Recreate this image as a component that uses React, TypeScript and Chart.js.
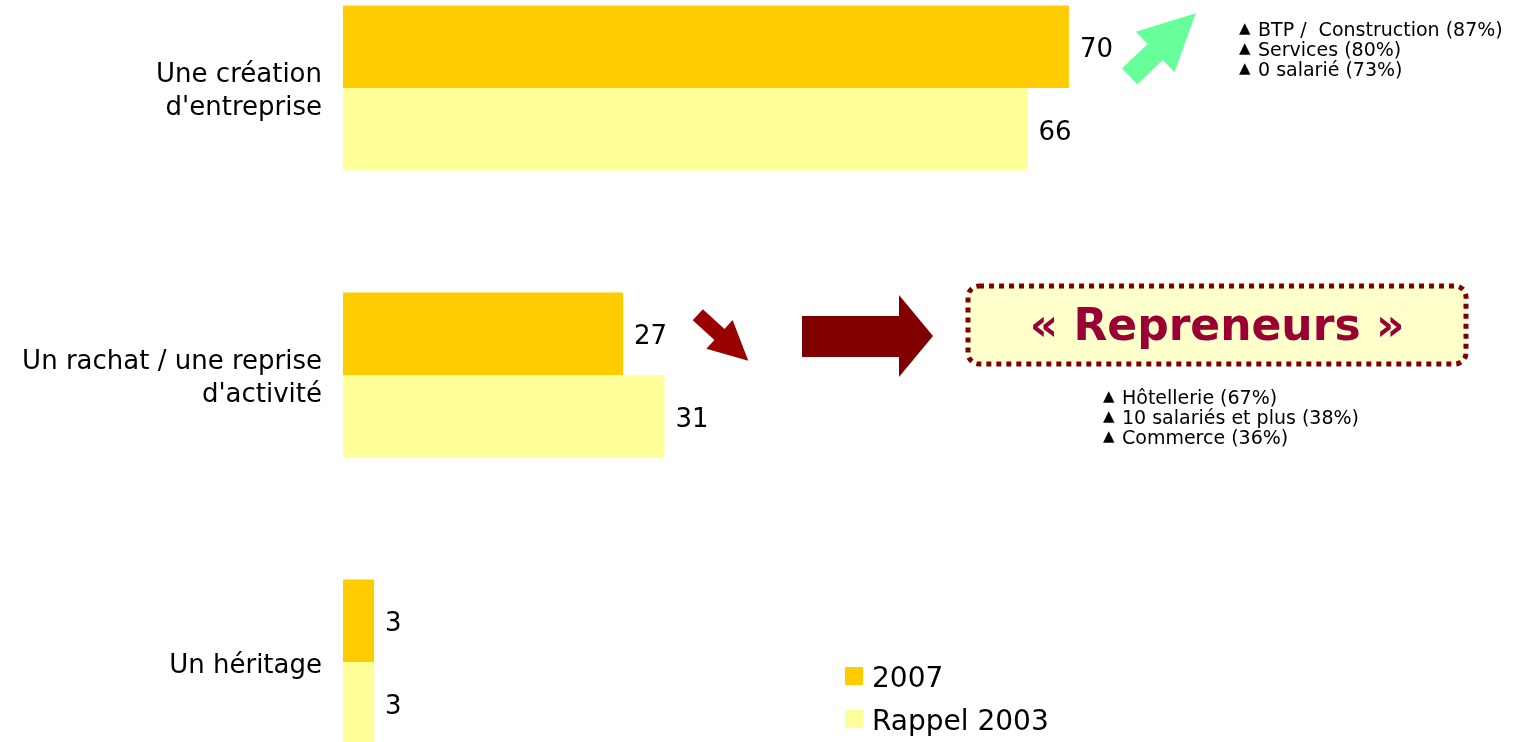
import React, { useEffect, useRef } from "react";
import { Chart, registerables } from "chart.js";

Chart.register(...registerables);

const categories = [
  ["Une création", "d'entreprise"],
  ["Un rachat / une reprise", "d'activité"],
  ["Un héritage"],
];
const series2007 = [70, 27, 3];
const series2003 = [66, 31, 3];
const seriesLabels = ["2007", "Rappel 2003"];
const seriesColors = ["#FFCC00", "#FFFF99"];
const creationNotes = ["BTP /  Construction (87%)", "Services (80%)", "0 salarié (73%)"];
const repriseNotes = ["Hôtellerie (67%)", "10 salariés et plus (38%)", "Commerce (36%)"];
const calloutText = "« Repreneurs »";

const FONT = "'DejaVu Sans', Verdana, sans-serif";

function drawArrow(
  ctx: CanvasRenderingContext2D,
  tail: number[],
  tip: number[],
  shaftHalf: number,
  headLen: number,
  headHalf: number,
  color: string
) {
  const dx = tip[0] - tail[0];
  const dy = tip[1] - tail[1];
  const L = Math.hypot(dx, dy);
  const ux = dx / L, uy = dy / L;
  const nx = -uy, ny = ux;
  const bx = tip[0] - ux * headLen, by = tip[1] - uy * headLen;
  ctx.beginPath();
  ctx.moveTo(tail[0] + nx * shaftHalf, tail[1] + ny * shaftHalf);
  ctx.lineTo(bx + nx * shaftHalf, by + ny * shaftHalf);
  ctx.lineTo(bx + nx * headHalf, by + ny * headHalf);
  ctx.lineTo(tip[0], tip[1]);
  ctx.lineTo(bx - nx * headHalf, by - ny * headHalf);
  ctx.lineTo(bx - nx * shaftHalf, by - ny * shaftHalf);
  ctx.lineTo(tail[0] - nx * shaftHalf, tail[1] - ny * shaftHalf);
  ctx.closePath();
  ctx.fillStyle = color;
  ctx.fill();
}

function drawNotes(ctx: CanvasRenderingContext2D, notes: string[], x: number, y0: number) {
  notes.forEach((t, i) => {
    const y = y0 + i * 20;
    ctx.fillStyle = "#000";
    ctx.textBaseline = "middle";
    ctx.textAlign = "left";
    ctx.font = `15px ${FONT}`;
    ctx.fillText("▲", x - 1, y);
    ctx.font = `19px ${FONT}`;
    ctx.fillText(t, x + 18, y + 2);
  });
}

const overlayPlugin = {
  id: "overlay",
  afterDatasetsDraw(chart: any) {
    const ctx: CanvasRenderingContext2D = chart.ctx;
    ctx.save();
    // value labels
    chart.data.datasets.forEach((ds: any, di: number) => {
      const meta = chart.getDatasetMeta(di);
      meta.data.forEach((bar: any, i: number) => {
        ctx.font = `26px ${FONT}`;
        ctx.fillStyle = "#000";
        ctx.textAlign = "left";
        ctx.textBaseline = "middle";
        ctx.fillText(String(ds.data[i]), bar.x + 11, bar.y + 4);
      });
    });

    // green arrow
    drawArrow(ctx, [1129.7, 76.3], [1195.7, 13.3], 11, 56, 28, "#66FF99");
    drawNotes(ctx, creationNotes, 1240, 29);

    // small red arrow
    drawArrow(ctx, [697.8, 314.7], [748.3, 360.7], 7.5, 39, 19.5, "#990000");

    // block arrow
    ctx.beginPath();
    ctx.moveTo(802, 316);
    ctx.lineTo(899, 316);
    ctx.lineTo(899, 295);
    ctx.lineTo(933, 336);
    ctx.lineTo(899, 377);
    ctx.lineTo(899, 357);
    ctx.lineTo(802, 357);
    ctx.closePath();
    ctx.fillStyle = "#800000";
    ctx.fill();

    // callout box
    ctx.beginPath();
    (ctx as any).roundRect(968, 286, 498, 78, 11);
    ctx.fillStyle = "#FFFFCC";
    ctx.fill();
    ctx.setLineDash([5, 5]);
    ctx.lineWidth = 5;
    ctx.strokeStyle = "#800000";
    ctx.stroke();
    ctx.setLineDash([]);
    ctx.font = `bold 44px ${FONT}`;
    ctx.fillStyle = "#990033";
    ctx.textAlign = "center";
    ctx.textBaseline = "middle";
    ctx.fillText(calloutText, 1217, 329);

    drawNotes(ctx, repriseNotes, 1104, 397);

    // legend
    chart.data.datasets.forEach((ds: any, di: number) => {
      const y = 676 + di * 43;
      ctx.fillStyle = ds.backgroundColor;
      ctx.fillRect(845, y - 9, 18, 18);
      ctx.fillStyle = "#000";
      ctx.font = `28px ${FONT}`;
      ctx.textAlign = "left";
      ctx.textBaseline = "middle";
      ctx.fillText(ds.label, 872, y + 4);
    });
    ctx.restore();
  },
};

export default function App() {
  const ref = useRef<HTMLCanvasElement>(null);
  useEffect(() => {
    if (!ref.current) return;
    const chart = new Chart(ref.current, {
      type: "bar",
      data: {
        labels: categories as any,
        datasets: [
          {
            label: seriesLabels[0],
            data: series2007,
            backgroundColor: seriesColors[0],
            borderWidth: 0,
            clip: false as any,
          },
          {
            label: seriesLabels[1],
            data: series2003,
            backgroundColor: seriesColors[1],
            borderWidth: 0,
            clip: false as any,
          },
        ],
      },
      options: {
        indexAxis: "y",
        responsive: false,
        animation: false,
        events: [],
        layout: { padding: { top: 88, bottom: 80, left: 0, right: 134 } },
        datasets: { bar: { categoryPercentage: 0.575, barPercentage: 1 } },
        plugins: { legend: { display: false }, tooltip: { enabled: false } },
        scales: {
          x: { display: false, min: 0, max: 100 },
          y: {
            offset: false,
            border: { display: false },
            grid: { display: false, drawTicks: false },
            ticks: {
              padding: 21,
              labelOffset: 4,
              color: "#000",
              font: { family: FONT, size: 26, lineHeight: 1.27 },
            },
            afterFit: (scale: any) => {
              scale.width = 343;
            },
          },
        },
      },
      plugins: [overlayPlugin],
    });
    return () => chart.destroy();
  }, []);
  return (
    <div style={{ position: "absolute", left: 0, top: 0, width: 1514, height: 742, background: "#fff" }}>
      <canvas ref={ref} width={1514} height={742} style={{ display: "block" }} />
    </div>
  );
}
